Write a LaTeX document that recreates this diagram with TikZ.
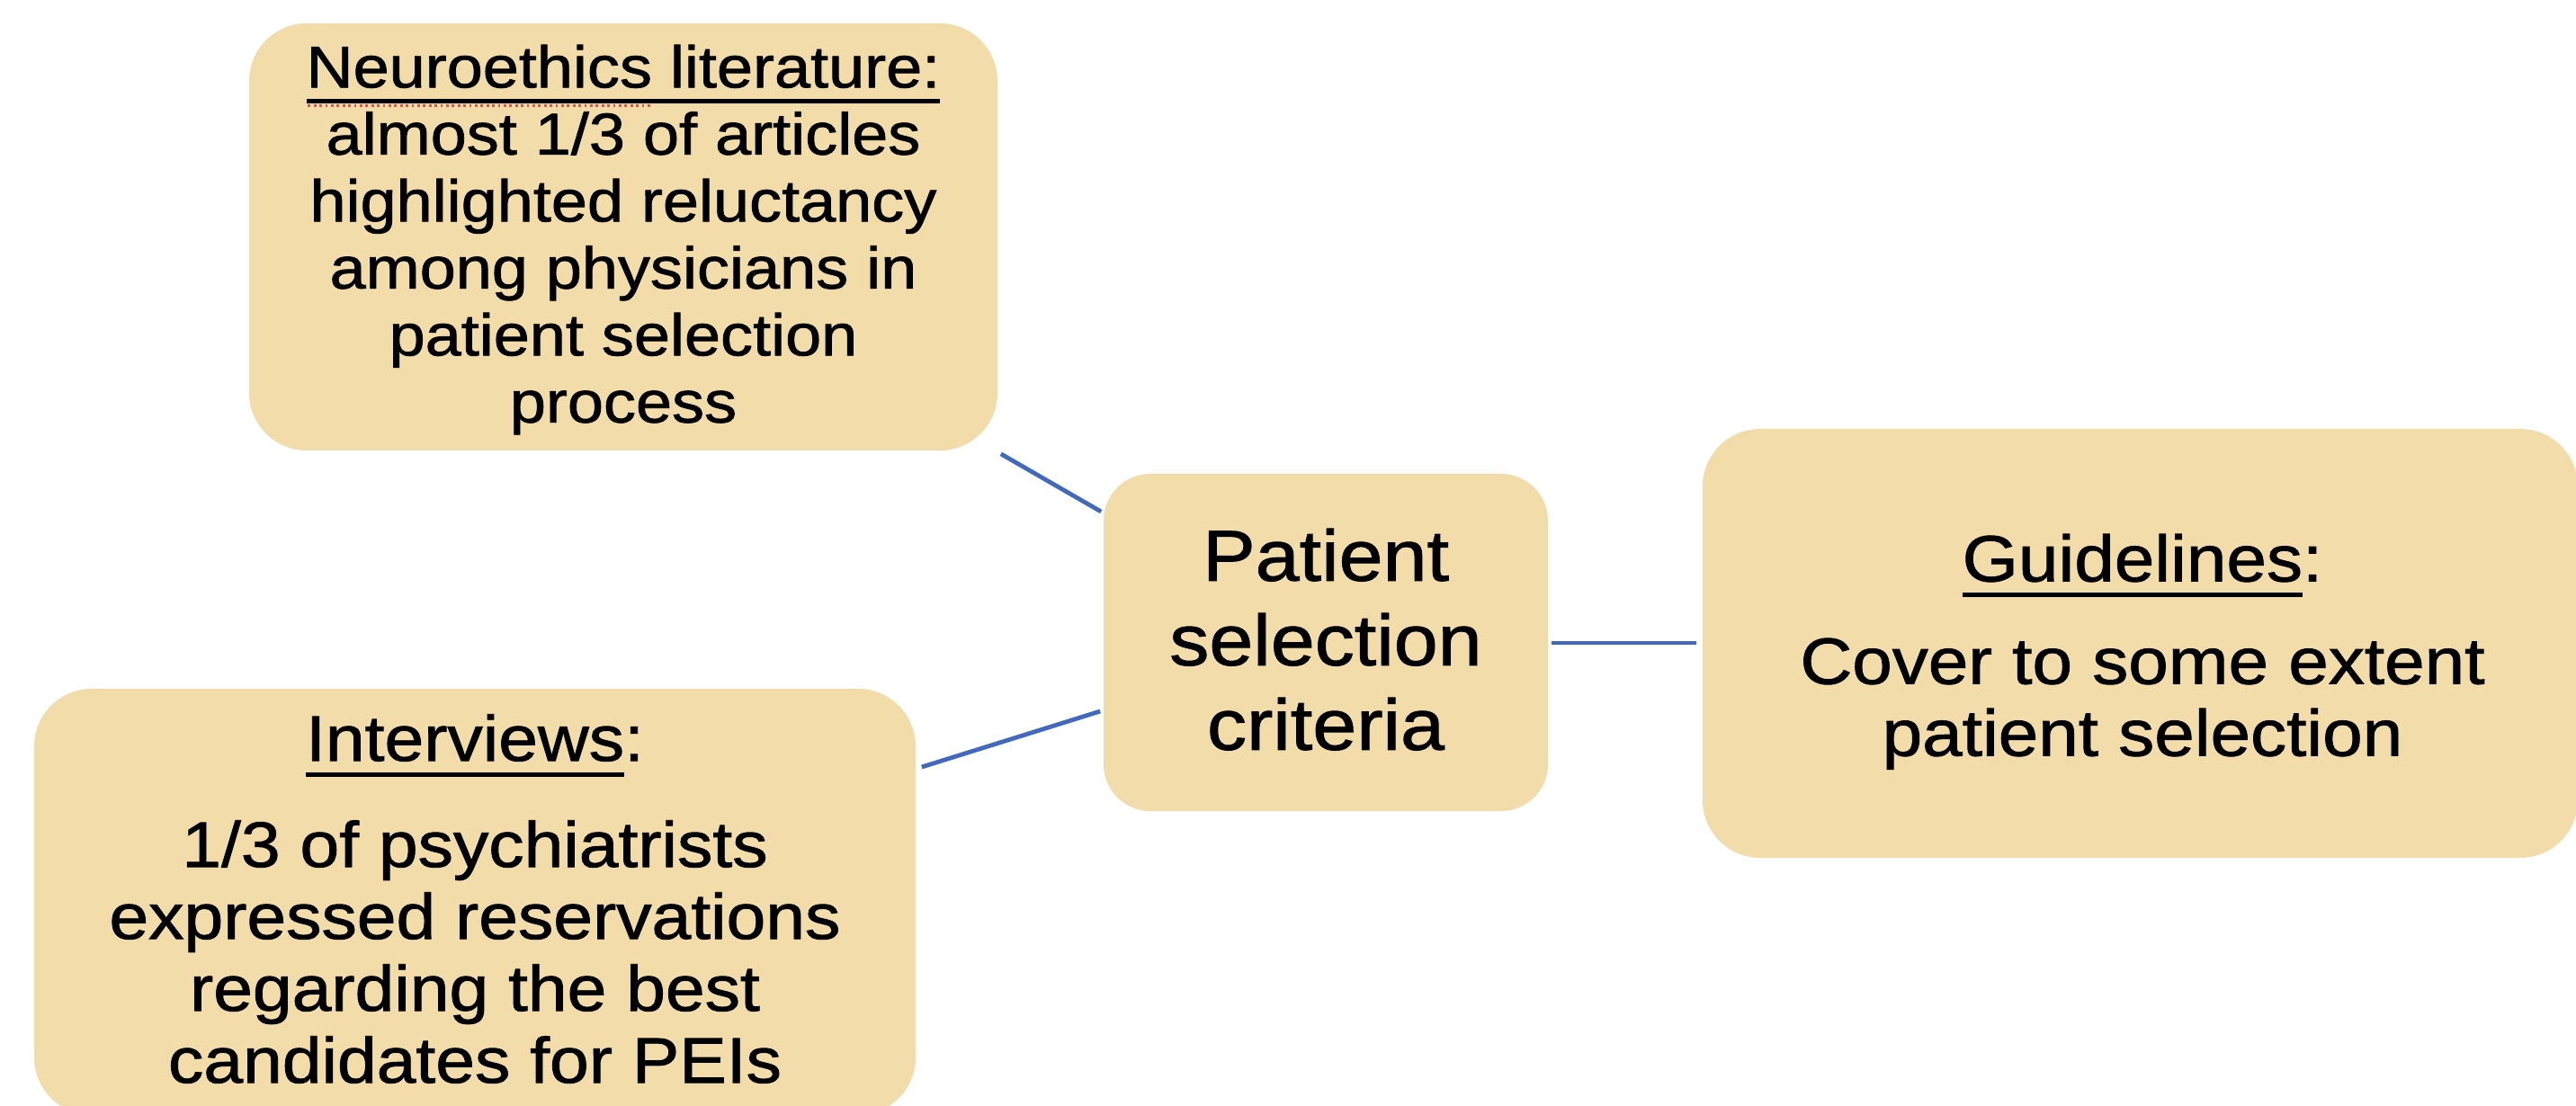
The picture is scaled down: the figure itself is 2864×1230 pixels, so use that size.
\documentclass[tikz,border=0pt]{standalone}
\usepackage{fontspec}
\setmainfont{Liberation Sans}[FakeStretch=1.1,FakeBold=1.2]
\usetikzlibrary{calc}
\definecolor{boxfill}{HTML}{F2DCAA}
\definecolor{linkblue}{HTML}{4169BF}
\definecolor{spellred}{HTML}{D9534F}
\newcommand\ulin[1]{\setbox0\hbox{#1}\rlap{\rule[-4.4pt]{\wd0}{1.25pt}}\box0\relax}
\newcommand\spellmark[1]{\setbox2\hbox{#1}\rlap{\color{spellred}\leaders\hbox to 1.6pt{\hss\rule[-5.4pt]{0.7pt}{0.7pt}\hss}\hskip\wd2}\box2\relax}
\begin{document}
\begin{tikzpicture}[x=0.25pt, y=-0.25pt,
  box/.style={fill=boxfill, draw=none, rounded corners=16pt, inner sep=0pt},
  txt/.style={inner sep=0pt, anchor=north, align=center, text=black},
  link/.style={draw=linkblue, line width=1.2pt}]
\fill[white] (0,0) rectangle (2864,1230);
\useasboundingbox (0,0) rectangle (2864,1230);

\node[box, minimum width=208pt, minimum height=118.75pt] (tl) at (693,263.5) {};
\node[box, minimum width=245pt, minimum height=118.5pt] (bl) at (528,1003) {};
\node[box, minimum width=123.5pt, minimum height=93.75pt, rounded corners=13pt] (c) at (1474,714.5) {};
\node[box, minimum width=243.25pt, minimum height=119.25pt] (r) at (2379.5,715.5) {};

\node[txt, font=\fontsize{16.375pt}{18.625pt}\selectfont] (tlt) at (693,49)
  {\ulin{\spellmark{Neuroethics} literature:}\\almost 1/3 of articles\\highlighted reluctancy\\among physicians in\\patient selection\\process};
\node[txt, font=\fontsize{17.875pt}{20pt}\selectfont] (blt) at (528,793.5)
  {\ulin{Interviews}:\\[9.5pt]1/3 of psychiatrists\\expressed reservations\\regarding the best\\candidates for PEIs};
\node[txt, font=\fontsize{20pt}{23.5pt}\selectfont] (ct) at (1474,587)
  {Patient\\selection\\criteria};
\node[txt, font=\fontsize{18.2pt}{20pt}\selectfont] (rt) at (2382,593)
  {\ulin{Guidelines}:\\[8.5pt]Cover to some extent\\patient selection};

\draw[link] ($(tl.south east)+(3,3)$) -- ($(c.west)+(-2,-145.5)$);
\draw[link] ($(bl.east)+(6,-150)$) -- ($(c.west)+(-3,76.5)$);
\draw[link] ($(c.east)+(3,0.5)$) -- ($(r.west)+(-6,-0.5)$);
\end{tikzpicture}
\end{document}
